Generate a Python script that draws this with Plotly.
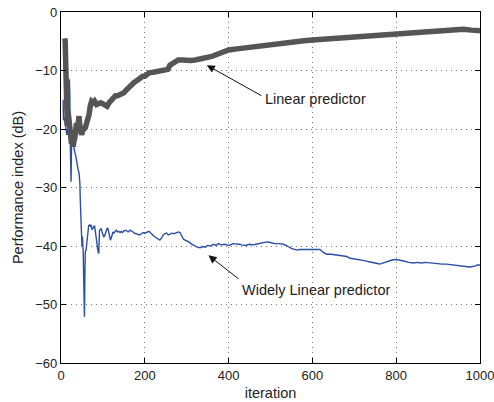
import plotly.graph_objects as go

# Linear predictor (thick gray)
lin_iter = [9, 10, 11, 12, 13, 15, 17, 19, 21, 23, 25, 27, 29, 31, 33, 35, 37, 39, 41, 43,
            45, 47, 49, 51, 53, 55, 58, 61, 64, 67, 70, 73, 76, 80, 85, 90, 95, 100, 105, 110,
            115, 120, 125, 130, 135, 140, 145, 150, 155, 160, 165, 170, 175, 180, 185, 190, 195, 200,
            205, 210, 220, 230, 240, 250, 255, 260, 265, 270, 275, 280, 290, 300, 310, 320, 330,
            340, 350, 360, 370, 380, 390, 400, 420, 440, 460, 480, 500, 520, 540, 560, 580, 600,
            620, 640, 660, 680, 700, 720, 740, 760, 780, 800, 820, 840, 860, 880, 900, 920, 940,
            960, 980, 1000]
lin_db = [-4.5, -5, -8, -14, -19, -19.5, -17, -19, -20, -21.5, -22.5, -21, -23, -22, -21.5, -20, -19, -20.5, -18, -17.8,
          -19.5, -20.5, -21, -20.5, -19.5, -20, -19.8, -19, -18.5, -17.5, -16, -15.3, -15.5, -15.2, -15.8, -15.6, -15.5, -15.7, -16, -16.1,
          -15.5, -15, -14.8, -14.3, -14.3, -14.2, -14, -13.8, -13.4, -13, -12.5, -12.2, -12, -11.8, -11.5, -11.2, -11, -11,
          -10.7, -10.4, -10.3, -10.2, -10.1, -10.0, -9.8, -9.1, -8.8, -8.6, -8.3, -8.2, -8.2, -8.3, -8.3, -8.2, -8.1,
          -7.9, -7.8, -7.6, -7.3, -7.0, -6.9, -6.5, -6.3, -6.1, -5.9, -5.7, -5.5, -5.3, -5.2, -5.1, -4.9, -4.8,
          -4.7, -4.55, -4.4, -4.3, -4.2, -4.1, -4.0, -3.95, -3.85, -3.75, -3.65, -3.55, -3.4, -3.3, -3.15, -3.05, -2.95,
          -2.95, -3.1, -3.2]

# Widely linear predictor (thin blue)
wl_iter = [5, 6, 8, 10, 12, 14, 16, 18, 20, 21, 22, 23, 24, 25, 27, 29, 31, 33, 35, 37,
           39, 41, 43, 45, 46, 47, 48, 49, 50, 51, 52, 53, 54, 55, 56, 57, 58, 60, 62, 64,
           66, 68, 70, 72, 74, 76, 78, 80, 82, 84, 86, 88, 90, 92, 94, 96, 98, 100, 102, 104,
           106, 108, 110, 112, 114, 116, 118, 120, 122, 124, 126, 128, 130, 132, 135, 138, 141, 144, 147, 150,
           155, 160, 165, 169, 172, 175, 180, 185, 188, 192, 196, 200, 205, 210, 212, 216, 220, 225, 230, 236,
           240, 244, 248, 252, 256, 260, 265, 270, 275, 280, 284, 288, 292, 296, 300, 305, 310, 315, 320, 325,
           332, 338, 344, 350, 356, 364, 370, 376, 382, 390, 396, 402, 410, 419, 425, 432, 440, 450, 459, 465,
           472, 480, 491, 500, 510, 520, 531, 540, 550, 563, 570, 580, 590, 600, 610, 618, 626, 634, 645, 655,
           665, 675, 682, 690, 700, 714, 725, 735, 745, 755, 761, 770, 780, 790, 801, 810, 820, 830, 841, 850,
           860, 870, 880, 889, 900, 910, 920, 936, 945, 955, 965, 976, 985, 990, 995, 1000]
wl_db = [-15, -18.5, -18, -19, -20, -21, -20, -21, -11.5, -14, -22, -25, -29, -23, -22, -22.5, -23.5, -24, -24.5, -25.5,
         -26.5, -27, -27.5, -29.2, -32, -35, -37.8, -39, -40, -38.4, -39.5, -41, -45, -48, -52.1, -45, -41, -40.7, -39.5, -38.4,
         -36.5, -36.4, -36.6, -36.4, -37.2, -37, -36.6, -36.5, -37.5, -39, -40, -40.8, -41.3, -37.3, -37.2, -37, -37.6, -38, -38.4, -38.3,
         -37.8, -37.2, -37, -37, -37.6, -38.2, -39, -38.6, -37.9, -37.6, -37.8, -37.6, -37.4, -37.3, -37.6, -37.5, -37.7, -37.5, -37.7, -37.4,
         -37.3, -37.6, -37.3, -37.4, -37.6, -37.8, -37.9, -38.0, -38.1, -37.9, -37.7, -37.8, -37.6, -37.5, -37.6, -38.0, -38.2, -38.5, -38.8, -39.0,
         -38.6, -38.1, -37.9, -37.8, -38.1, -38.0, -37.8, -37.9, -37.7, -37.6, -37.7, -38.2, -38.8, -39.0, -39.1, -39.3, -39.6, -39.8, -40.0, -40.2,
         -40.3, -40.1, -40.2, -39.9, -40.0, -39.7, -39.9, -39.6, -39.8, -39.7, -39.8, -39.9, -39.6, -39.6, -39.7, -39.8, -39.9, -39.7, -39.8, -39.7,
         -39.6, -39.4, -39.3, -39.4, -39.6, -39.6, -39.7, -40.0, -40.4, -40.7, -40.6, -40.6, -40.6, -40.5, -40.6, -40.6, -41.1, -41.4, -41.4, -41.5,
         -41.6, -41.8, -41.8, -42.1, -42.2, -42.4, -42.5, -42.7, -42.8, -43.0, -43.1, -42.9, -42.6, -42.4, -42.3, -42.5, -42.6, -42.8, -42.9, -42.8,
         -42.9, -42.8, -42.9, -42.9, -43.0, -43.1, -43.1, -43.2, -43.3, -43.4, -43.5, -43.6, -43.5, -43.4, -43.2, -43.3]

x_ticks = [0, 200, 400, 600, 800, 1000]
y_ticks = [-60, -50, -40, -30, -20, -10, 0]

# annotation anchors (data units)
lin_label = "Linear predictor"
wl_label = "Widely Linear predictor"
lin_head = (348, -9.1)
lin_tail = (482, -14.45)
wl_head = (352, -41.6)
wl_tail = (427, -45.8)

FONT = "Liberation Sans, Arial, Helvetica, sans-serif"

fig = go.Figure()
fig.add_trace(go.Scatter(x=wl_iter, y=wl_db, mode="lines",
                         line=dict(color="#2b4ea8", width=1.4), showlegend=False))
fig.add_trace(go.Scatter(x=lin_iter, y=lin_db, mode="lines",
                         line=dict(color="#555555", width=5.5), showlegend=False))

axis_common = dict(
    showline=True, linecolor="#000000", linewidth=1.3, mirror="ticks",
    ticks="inside", ticklen=5, tickcolor="#000000", tickwidth=1,
    showgrid=True, gridcolor="#777777", gridwidth=1, griddash="1px,4px",
    zeroline=False, automargin=False, ticklabeloverflow="allow",
    tickfont=dict(family=FONT, size=13, color="#222222"),
)

fig.update_xaxes(range=[0, 1000], tickvals=x_ticks,
                 title=dict(text="iteration", font=dict(family=FONT, size=14.5, color="#222222"), standoff=6),
                 **axis_common)
fig.update_yaxes(range=[-60, 0], tickvals=y_ticks,
                 title=dict(text="Performance index (dB)", font=dict(family=FONT, size=14.5, color="#222222"), standoff=8),
                 **axis_common)

for head, tail in [(lin_head, lin_tail), (wl_head, wl_tail)]:
    fig.add_annotation(x=head[0], y=head[1], ax=tail[0], ay=tail[1], axref="x", ayref="y",
                       xref="x", yref="y", text="", showarrow=True,
                       arrowhead=2, arrowsize=1.6, arrowwidth=1, arrowcolor="#111111")

fig.add_annotation(x=lin_tail[0], y=-14.9, xref="x", yref="y", text=lin_label, showarrow=False,
                   xanchor="left", yanchor="middle", font=dict(family=FONT, size=14.5, color="#222222"))
fig.add_annotation(x=wl_tail[0], y=-47.5, xref="x", yref="y", text=wl_label, showarrow=False,
                   xanchor="left", yanchor="middle", font=dict(family=FONT, size=14.5, color="#222222"))

fig.update_layout(width=494, height=402, margin=dict(l=61, r=14, t=12, b=39),
                  plot_bgcolor="#ffffff", paper_bgcolor="#ffffff")

fig.write_html("out.html", config={"displayModeBar": False},
               post_script="document.body.style.margin='0';document.body.style.padding='0';")
